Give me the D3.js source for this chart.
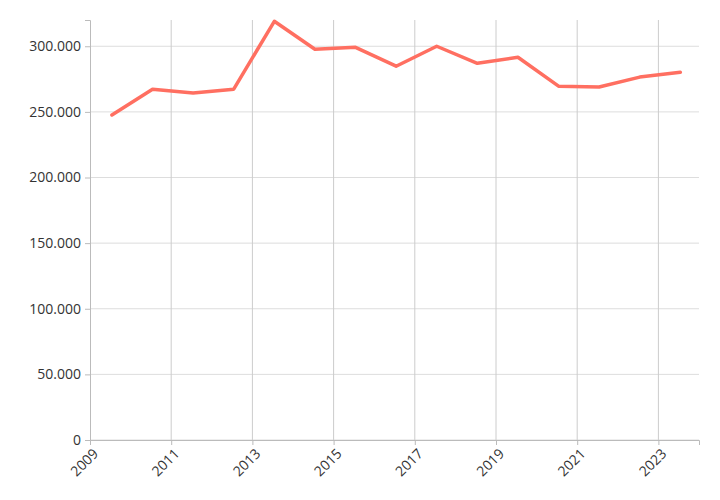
<!DOCTYPE html>
<html>
<head>
<meta charset="utf-8">
<script src="https://cdn.jsdelivr.net/npm/d3@7"></script>
<style>
  body { margin: 0; background: #fff; }
  svg text { font-family: "Open Sans", "Noto Sans", sans-serif; fill: #333; }
</style>
</head>
<body>
<svg id="chart" width="720" height="500"></svg>
<script>
// Values (one point per year, plotted mid-year)
const years  = [2009, 2010, 2011, 2012, 2013, 2014, 2015, 2016, 2017, 2018, 2019, 2020, 2021, 2022, 2023];
const values = [247600, 267300, 264300, 267300, 319000, 297700, 299200, 284800, 300000, 287000, 291600, 269600, 268900, 276500, 280200];
const yTicks = [0, 50000, 100000, 150000, 200000, 250000, 300000];
const xTicks = [2009, 2011, 2013, 2015, 2017, 2019, 2021, 2023];

const margin = { top: 20, right: 21, bottom: 60, left: 90 };
const width = 720, height = 500;

const svg = d3.select('#chart');
const x = d3.scaleLinear().domain([2009, 2024]).range([margin.left, width - margin.right]);
const y = d3.scaleLinear().domain([0, 320000]).range([height - margin.bottom, margin.top]);

const fmt = d3.formatLocale({ decimal: ',', thousands: '.', grouping: [3], currency: ['', '€'] }).format(',');

// Grid
svg.append('g').selectAll('line').data(yTicks).join('line')
  .attr('x1', margin.left).attr('x2', width - margin.right)
  .attr('y1', d => y(d)).attr('y2', d => y(d))
  .attr('stroke', '#ddd').attr('stroke-width', 1);
svg.append('g').selectAll('line').data(xTicks.slice(1)).join('line')
  .attr('x1', d => x(d)).attr('x2', d => x(d))
  .attr('y1', margin.top).attr('y2', height - margin.bottom)
  .attr('stroke', '#ccc').attr('stroke-width', 1);

// Axes
const yAxis = svg.append('g')
  .attr('transform', `translate(${margin.left},0)`)
  .call(d3.axisLeft(y).tickValues(yTicks).tickFormat(fmt).tickSize(5).tickPadding(4));
yAxis.select('.domain').attr('stroke', '#bbb');
yAxis.selectAll('.tick line').attr('stroke', '#bbb');
yAxis.selectAll('text').style('font-size', '14px').attr('fill', '#333');

const xAxis = svg.append('g')
  .attr('transform', `translate(0,${height - margin.bottom})`)
  .call(d3.axisBottom(x).tickValues(xTicks).tickFormat(d3.format('d')).tickSize(5));
xAxis.select('.domain').attr('stroke', '#bbb');
xAxis.selectAll('.tick line').attr('stroke', '#bbb');
xAxis.selectAll('text')
  .style('font-size', '14px').attr('fill', '#333')
  .attr('text-anchor', 'end')
  .attr('dx', '-0.3em').attr('dy', '0.6em')
  .attr('transform', 'rotate(-45)');

// Line
const line = d3.line().x((d, i) => x(years[i] + 0.54)).y(d => y(d));
svg.append('path')
  .datum(values)
  .attr('d', line)
  .attr('fill', 'none')
  .attr('stroke', '#ff6f61')
  .attr('stroke-width', 3.5)
  .attr('stroke-linejoin', 'round')
  .attr('stroke-linecap', 'round');
</script>
</body>
</html>
